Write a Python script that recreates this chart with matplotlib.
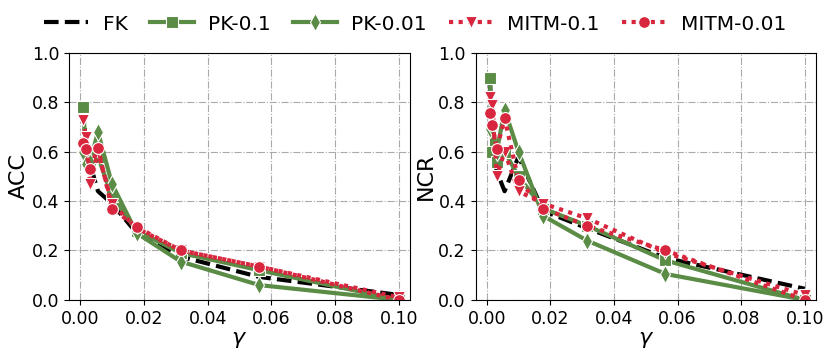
import numpy as np
import matplotlib
matplotlib.use("Agg")
import matplotlib.pyplot as plt

gamma = [0.001, 0.00178, 0.00316, 0.00562, 0.01, 0.0178, 0.0316, 0.0562, 0.1]

acc_fk = [0.78, 0.635, 0.55, 0.44, 0.39, 0.27, 0.175, 0.093, 0.02]
acc_pk01 = [0.78, 0.60, 0.55, 0.58, 0.42, 0.28, 0.19, 0.12, 0.0]
acc_pk001 = [0.60, 0.55, 0.56, 0.68, 0.47, 0.27, 0.155, 0.06, 0.0]
acc_mitm01 = [0.73, 0.66, 0.47, 0.60, 0.39, 0.29, 0.20, 0.135, 0.01]
acc_mitm001 = [0.635, 0.61, 0.53, 0.615, 0.37, 0.295, 0.20, 0.135, 0.0]

ncr_fk = [0.90, 0.62, 0.52, 0.44, 0.58, 0.36, 0.29, 0.17, 0.045]
ncr_pk01 = [0.90, 0.60, 0.56, 0.60, 0.50, 0.37, 0.30, 0.16, 0.0]
ncr_pk001 = [0.69, 0.70, 0.60, 0.77, 0.60, 0.34, 0.24, 0.105, 0.0]
ncr_mitm01 = [0.82, 0.79, 0.50, 0.60, 0.44, 0.39, 0.33, 0.19, 0.02]
ncr_mitm001 = [0.755, 0.71, 0.61, 0.735, 0.485, 0.37, 0.30, 0.20, 0.0]

labels = ["FK", "PK-0.1", "PK-0.01", "MITM-0.1", "MITM-0.01"]
xticks = [0.00, 0.02, 0.04, 0.06, 0.08, 0.10]
yticks = [0.0, 0.2, 0.4, 0.6, 0.8, 1.0]

green = "#5a8c46"
red = "#d7263d"
styles = [
    dict(color="black", linestyle=(0, (3.5, 1.5)), marker=None, lw=3),
    dict(color=green, linestyle="-", marker="s", lw=3, ms=8),
    dict(color=green, linestyle="-", marker="d", lw=3, ms=9),
    dict(color=red, linestyle=(0, (1, 1.3)), marker="v", lw=3, ms=8),
    dict(color=red, linestyle=(0, (1, 1.3)), marker="o", lw=3, ms=8.5),
]

fig = plt.figure(figsize=(8.3, 3.6), dpi=100)
ax1 = fig.add_axes([0.083, 0.167, 0.411, 0.686])
ax2 = fig.add_axes([0.573, 0.167, 0.41, 0.686])

def draw(ax, series, ylabel):
    handles = []
    for vals, st, lab in zip(series, styles, labels):
        kw = dict(color=st["color"], linestyle=st["linestyle"], linewidth=st["lw"], label=lab)
        if st["marker"]:
            kw.update(marker=st["marker"], markersize=st["ms"], markeredgecolor="white", markeredgewidth=0.8)
        h, = ax.plot(gamma, vals, **kw)
        handles.append(h)
    ax.set_xlim(-0.0035, 0.1035)
    ax.set_ylim(0, 1.0)
    ax.set_xticks(xticks)
    ax.set_xticklabels([f"{v:.2f}" for v in xticks])
    ax.set_yticks(yticks)
    ax.set_yticklabels([f"{v:.1f}" for v in yticks])
    ax.tick_params(labelsize=12.5)
    ax.grid(True, linestyle="-.", color="#aaaaaa", linewidth=0.8)
    ax.set_xlabel(r"$\gamma$", fontsize=16, labelpad=2)
    ax.set_ylabel(ylabel, fontsize=16, labelpad=2)
    return handles

h = draw(ax1, [acc_fk, acc_pk01, acc_pk001, acc_mitm01, acc_mitm001], "ACC")
draw(ax2, [ncr_fk, ncr_pk01, ncr_pk001, ncr_mitm01, ncr_mitm001], "NCR")

fig.legend(handles=h, labels=labels, loc="upper center", ncol=5, frameon=False,
           fontsize=14.5, bbox_to_anchor=(0.5, 1.01), handlelength=2.2, columnspacing=1.1,
           handletextpad=0.7)

fig.savefig("out.png", dpi=100)
